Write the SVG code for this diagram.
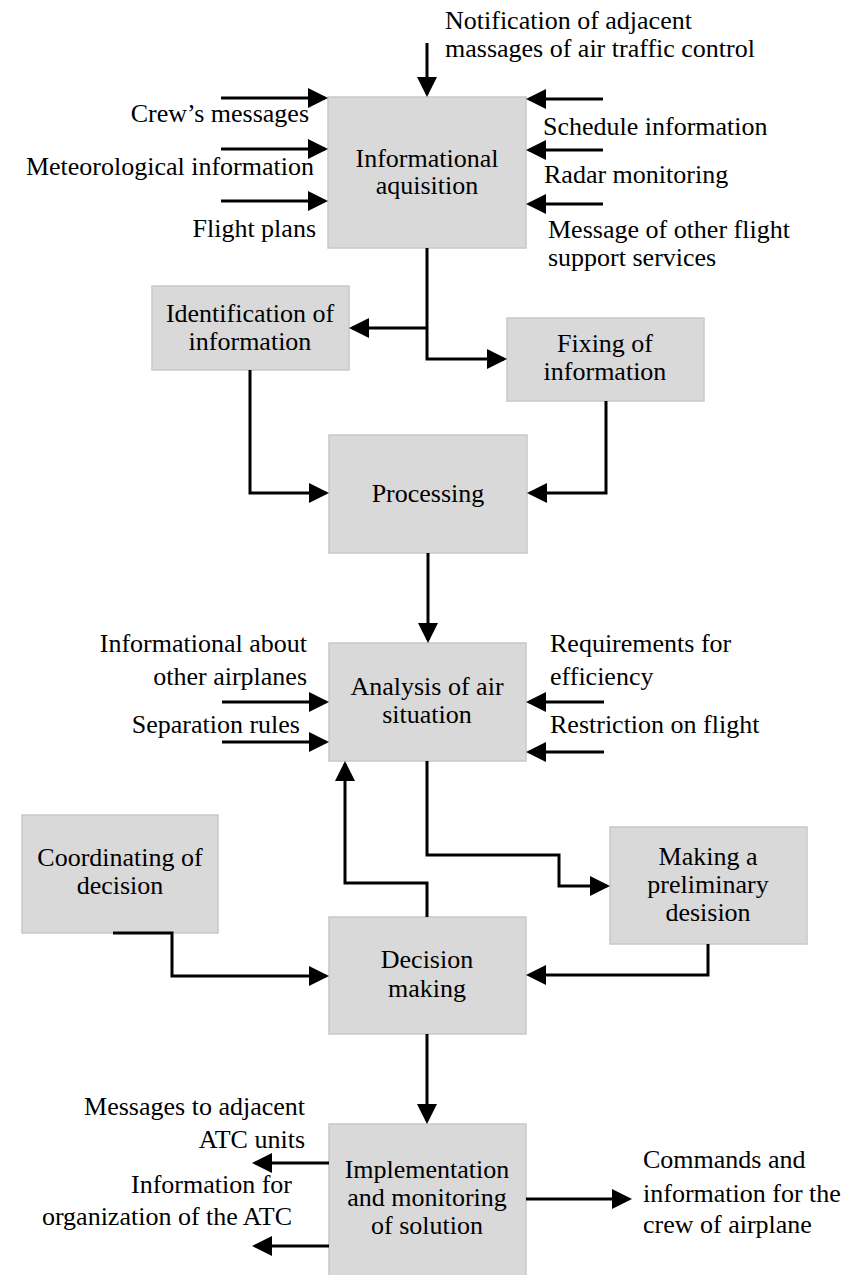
<svg xmlns="http://www.w3.org/2000/svg" width="858" height="1275" viewBox="0 0 858 1275">
<style>
text{font-size:26px;fill:#000}
.box{fill:#d9d9d9;stroke:#c8c8c8;stroke-width:1.5}
.c{text-anchor:middle}
.r{text-anchor:end}
.con path{fill:none;stroke:#000;stroke-width:3;marker-end:url(#ah)}
</style>
<defs>
<marker id="ah" markerUnits="userSpaceOnUse" markerWidth="20" markerHeight="20" refX="17" refY="10" orient="auto">
<path d="M0,0 L20,10 L0,20 z" fill="#000"/>
</marker>
</defs>
<rect width="858" height="1275" fill="#fff"/>
<g font-family="Liberation Serif, Times New Roman, serif">
<g id="n-acq"><rect class="box" x="328" y="97" width="198" height="151"/><text class="c" x="427" y="167">Informational</text><text class="c" x="427" y="194">aquisition</text></g>
<g id="n-ident"><rect class="box" x="152" y="286" width="197" height="84"/><text class="c" x="250" y="322">Identification of</text><text class="c" x="250" y="350">information</text></g>
<g id="n-fix"><rect class="box" x="507" y="318" width="197" height="83"/><text class="c" x="605" y="352">Fixing of</text><text class="c" x="605" y="380">information</text></g>
<g id="n-proc"><rect class="box" x="329" y="435" width="198" height="118"/><text class="c" x="428" y="502">Processing</text></g>
<g id="n-anal"><rect class="box" x="329" y="643" width="197" height="118"/><text class="c" x="427" y="695">Analysis of air</text><text class="c" x="427" y="723">situation</text></g>
<g id="n-prelim"><rect class="box" x="610" y="827" width="197" height="117"/><text class="c" x="708" y="865">Making a</text><text class="c" x="708" y="893">preliminary</text><text class="c" x="708" y="921">desision</text></g>
<g id="n-coord"><rect class="box" x="22" y="815" width="196" height="118"/><text class="c" x="120" y="866">Coordinating of</text><text class="c" x="120" y="894">decision</text></g>
<g id="n-dec"><rect class="box" x="329" y="917" width="197" height="117"/><text class="c" x="427" y="968">Decision</text><text class="c" x="427" y="997">making</text></g>
<g id="n-impl"><rect class="box" x="329" y="1124" width="197" height="160"/><text class="c" x="427" y="1178">Implementation</text><text class="c" x="427" y="1206">and monitoring</text><text class="c" x="427" y="1234">of solution</text></g>

<g id="labels">
<text x="445" y="29">Notification of adjacent</text>
<text x="445" y="57">massages of air traffic control</text>
<text class="r" x="309" y="122">Crew’s messages</text>
<text class="r" x="314" y="175">Meteorological information</text>
<text class="r" x="316" y="237">Flight plans</text>
<text x="543" y="135">Schedule information</text>
<text x="544" y="183">Radar monitoring</text>
<text x="548" y="238">Message of other flight</text>
<text x="548" y="266">support services</text>
<text class="r" x="307" y="652">Informational about</text>
<text class="r" x="307" y="685">other airplanes</text>
<text class="r" x="300" y="733">Separation rules</text>
<text x="550" y="652">Requirements for</text>
<text x="550" y="685">efficiency</text>
<text x="550" y="733">Restriction on flight</text>
<text class="r" x="305" y="1115">Messages to adjacent</text>
<text class="r" x="305" y="1148">ATC units</text>
<text class="r" x="292" y="1193">Information for</text>
<text class="r" x="292" y="1225">organization of the ATC</text>
<text x="643" y="1168">Commands and</text>
<text x="643" y="1202">information for the</text>
<text x="643" y="1233">crew of airplane</text>
</g>
</g>
<g id="connectors" class="con">
<path d="M427,43 V94"/>
<path d="M221,98 H325"/>
<path d="M221,149 H325"/>
<path d="M221,201 H325"/>
<path d="M603,99 H529"/>
<path d="M603,150 H529"/>
<path d="M603,204 H529"/>
<path d="M427,248 V359 H504"/>
<path d="M427,328 H352"/>
<path d="M250,370 V493 H326"/>
<path d="M606,401 V493 H530"/>
<path d="M428,553 V640"/>
<path d="M222,702 H326"/>
<path d="M222,742 H326"/>
<path d="M604,702 H529"/>
<path d="M604,752 H529"/>
<path d="M427,761 V855 H559 V886 H607"/>
<path d="M427,917 V883 H345 V764"/>
<path d="M113,933 H172 V976 H326"/>
<path d="M708,944 V975 H529"/>
<path d="M427,1034 V1121"/>
<path d="M329,1163 H255"/>
<path d="M329,1246 H255"/>
<path d="M526,1199 H629"/>
</g>
</svg>
